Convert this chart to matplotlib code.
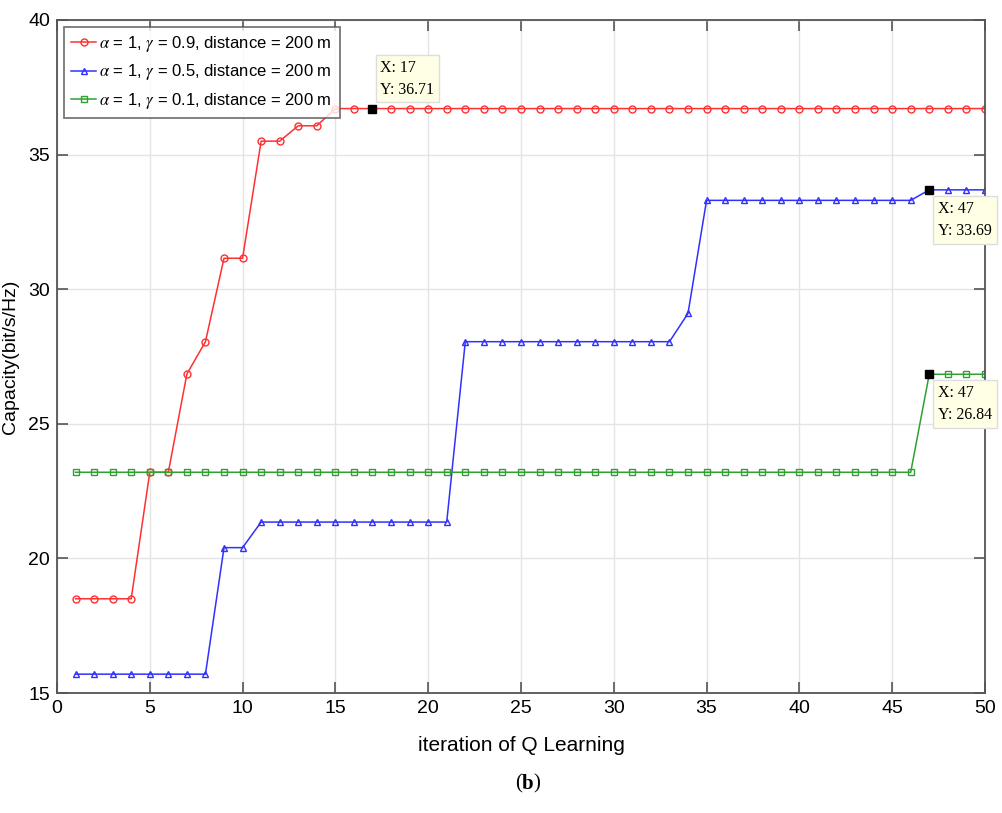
import matplotlib
matplotlib.use('Agg')
import matplotlib.pyplot as plt
import numpy as np

# iterations of Q learning
iterations = np.arange(1, 51)

# capacity (bit/s/Hz) for gamma = 0.9, 0.5, 0.1
cap_g09 = [18.5, 18.5, 18.5, 18.5, 23.2, 23.2, 26.85, 28.05, 31.15, 31.15,
           35.5, 35.5, 36.07, 36.07] + [36.71] * 36
cap_g05 = [15.7] * 8 + [20.4, 20.4] + [21.35] * 11 + [28.05] * 12 + [29.1] \
          + [33.3] * 12 + [33.69] * 4
cap_g01 = [23.2] * 46 + [26.84] * 4

legend_labels = [r'$\alpha$ = 1, $\gamma$ = 0.9, distance = 200 m',
                 r'$\alpha$ = 1, $\gamma$ = 0.5, distance = 200 m',
                 r'$\alpha$ = 1, $\gamma$ = 0.1, distance = 200 m']

# data tips (x, y, placement)
tips = [(17, 36.71, 'above'), (47, 33.69, 'below'), (47, 26.84, 'below')]

plt.rcParams['mathtext.fontset'] = 'stix'
plt.rcParams['font.family'] = ['Liberation Sans', 'DejaVu Sans']

fig = plt.figure(figsize=(10.03, 8.13), dpi=100)
ax = fig.add_axes([0.0568, 0.1476, 0.9252, 0.8278])

ax.plot(iterations, cap_g09, color='#ff3030', lw=1.1, marker='o', ms=5,
        mfc='none', mew=1, label=legend_labels[0])
ax.plot(iterations, cap_g05, color='#3030ff', lw=1.1, marker='^', ms=5,
        mfc='none', mew=1, label=legend_labels[1])
ax.plot(iterations, cap_g01, color='#30a030', lw=1.1, marker='s', ms=4,
        mfc='none', mew=1, label=legend_labels[2])

ax.set_xlim(0, 50)
ax.set_ylim(15, 40)
ax.set_xticks(np.arange(0, 51, 5))
ax.set_yticks(np.arange(15, 41, 5))
ax.grid(True, color='#e4e4e4', lw=1)
ax.set_axisbelow(True)
ax.tick_params(direction='in', length=8, width=1.2, color='#555555',
               top=True, right=True, labelsize=14, pad=5)
for sp in ax.spines.values():
    sp.set_color('#555555')
    sp.set_linewidth(1.3)

ax.set_xlabel('iteration of Q Learning', fontsize=15, labelpad=14)
ax.set_ylabel('Capacity(bit/s/Hz)', fontsize=14)
ax.yaxis.set_label_coords(-0.041, 0.5)

leg = ax.legend(loc='upper left', fontsize=12, frameon=True, fancybox=False,
                borderaxespad=0.4, handlelength=1.5, handletextpad=0.2,
                labelspacing=0.5, borderpad=0.45)
leg.get_frame().set_edgecolor('#555555')
leg.get_frame().set_linewidth(1.3)

for x, y, where in tips:
    ax.plot([x], [y], marker='s', color='black', ms=6, zorder=5)
    if where == 'above':
        off, va = (8, 11), 'bottom'
    else:
        off, va = (9, -11), 'top'
    ax.annotate(f'X: {x}\nY: {y:.2f}', xy=(x, y), xytext=off,
                textcoords='offset pixels', ha='left', va=va,
                fontsize=11.5, family='Liberation Serif', linespacing=1.5,
                bbox=dict(boxstyle='square,pad=0.3', fc='#ffffe6',
                          ec='#dddddd', lw=1), zorder=6)

fig.text(0.52, 0.03, '(', fontsize=15, family='Liberation Serif', ha='right')
fig.text(0.52, 0.03, 'b', fontsize=15, family='Liberation Serif',
         weight='bold', ha='left')
fig.text(0.5315, 0.03, ')', fontsize=15, family='Liberation Serif', ha='left')

fig.savefig('out.png', dpi=100, facecolor='white')
